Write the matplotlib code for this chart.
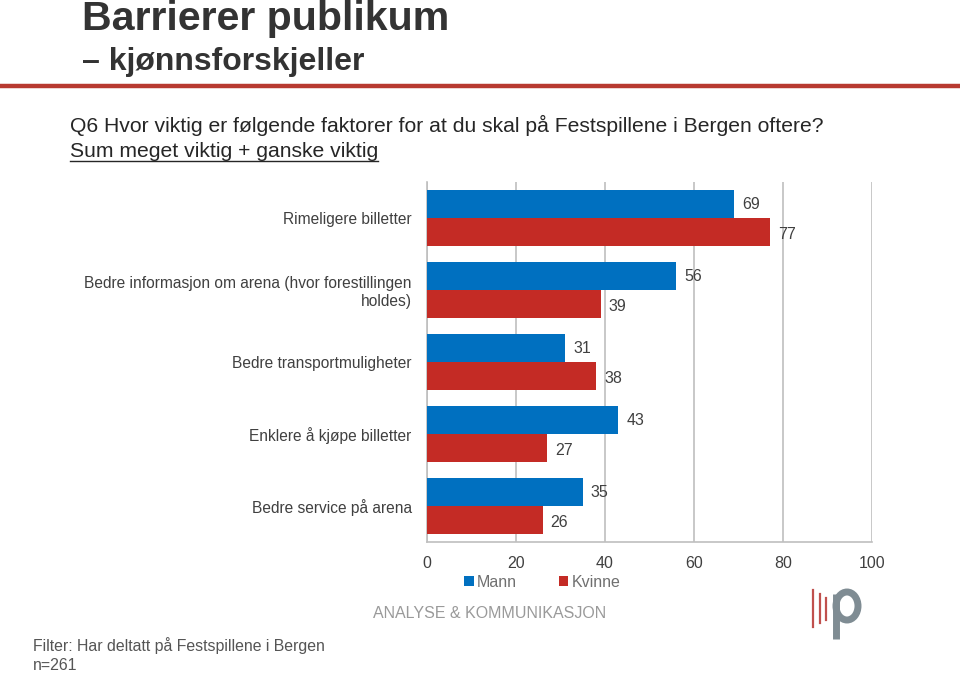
import matplotlib.pyplot as plt
import numpy as np
from matplotlib.lines import Line2D
from matplotlib.patches import Ellipse

plt.rcParams['font.family'] = ['Liberation Sans', 'DejaVu Sans']

categories = ['Rimeligere billetter',
              'Bedre informasjon om arena (hvor forestillingen\nholdes)',
              'Bedre transportmuligheter',
              'Enklere å kjøpe billetter',
              'Bedre service på arena']
mann = [69, 56, 31, 43, 35]
kvinne = [77, 39, 38, 27, 26]
xticks = [0, 20, 40, 60, 80, 100]

blue = '#0070C0'
red = '#C42B25'
grid_col = '#BFBFBF'
text_col = '#404040'

W, H = 960, 676
fig = plt.figure(figsize=(9.6, 6.76), dpi=100)
ax = fig.add_axes([0.4448, 0.1982, 0.4635, 0.5326])


def fx(px):
    return px / W


def fy(py):
    return 1 - py / H


y = np.arange(len(categories))
h = 0.386
bm = ax.barh(y - h / 2, mann, height=h, color=blue, label='Mann', zorder=3)
bk = ax.barh(y + h / 2, kvinne, height=h, color=red, label='Kvinne', zorder=3)

for rect, v in zip(bm, mann):
    ax.text(v + 1.8, rect.get_y() + rect.get_height() / 2, str(v),
            va='center', ha='left', fontsize=11.5, color=text_col)
for rect, v in zip(bk, kvinne):
    ax.text(v + 1.8, rect.get_y() + rect.get_height() / 2 + 0.03, str(v),
            va='center', ha='left', fontsize=11.5, color=text_col)

ax.set_xlim(0, 100)
ax.set_ylim(len(categories) - 0.5, -0.5)
ax.set_xticks(xticks)
ax.set_yticks(y)
ax.set_yticklabels(categories, fontsize=11.2, color=text_col)
ax.tick_params(axis='y', length=0, pad=11)
ax.tick_params(axis='x', length=0, pad=10, labelsize=11.5, labelcolor=text_col)
ax.xaxis.grid(True, color=grid_col, linewidth=1.2, zorder=0)
for s in ['top', 'right']:
    ax.spines[s].set_visible(False)
for s in ['left', 'bottom']:
    ax.spines[s].set_color(grid_col)
    ax.spines[s].set_linewidth(1.2)

# legend
leg = fig.legend(handles=[bm, bk], labels=['Mann', 'Kvinne'], loc='center',
                 bbox_to_anchor=(0.565, 0.139), ncol=2, frameon=False,
                 fontsize=11.5, handlelength=0.6, handleheight=0.6,
                 handletextpad=0.2, columnspacing=2.6)
for t in leg.get_texts():
    t.set_color('#707070')

# header
fig.text(fx(82), fy(30), 'Barrierer publikum', fontsize=29.6, fontweight='bold',
         color='#333333', va='baseline', ha='left')
fig.text(fx(82), fy(70), '– kjønnsforskjeller', fontsize=23, fontweight='bold',
         color='#333333', va='baseline', ha='left')
fig.add_artist(Line2D([0, 1], [fy(86), fy(86)], color='#B83A30', linewidth=3.2,
                      transform=fig.transFigure))

fig.text(fx(70), fy(132),
         'Q6 Hvor viktig er følgende faktorer for at du skal på Festspillene i Bergen oftere?',
         fontsize=15.25, color='#262626', va='baseline', ha='left')
sub = fig.text(fx(70), fy(157), 'Sum meget viktig + ganske viktig', fontsize=15.25,
               color='#262626', va='baseline', ha='left')
fig.canvas.draw()
bb = sub.get_window_extent(fig.canvas.get_renderer())
fig.add_artist(Line2D([fx(70), bb.x1 / W], [fy(161), fy(161)], color='#262626',
                      linewidth=1, transform=fig.transFigure))

# footer
fig.text(fx(33), fy(646), 'Filter: Har deltatt på Festspillene i Bergen',
         fontsize=11.4, color='#555555', va='center', ha='left')
fig.text(fx(33), fy(665), 'n=261',
         fontsize=11.4, color='#555555', va='center', ha='left')
fig.text(fx(373), fy(613), 'ANALYSE & KOMMUNIKASJON',
         fontsize=11.5, color='#9A9A9A', va='center', ha='left')

# logo
for xl, y0, y1 in [(813, 590, 627), (819.5, 594, 623), (826, 598, 620)]:
    fig.add_artist(Line2D([fx(xl), fx(xl)], [fy(y0), fy(y1)], color='#C0504D',
                          linewidth=1.6, transform=fig.transFigure))
grey = '#7F8C93'
fig.add_artist(Line2D([fx(836), fx(836)], [fy(594), fy(639)], color=grey,
                      linewidth=5, solid_capstyle='butt', transform=fig.transFigure))
fig.add_artist(Ellipse((fx(847), fy(606)), fx(22), 28 / H, fill=False,
                       edgecolor=grey, linewidth=5, transform=fig.transFigure))

fig.savefig('out.png', dpi=100)
